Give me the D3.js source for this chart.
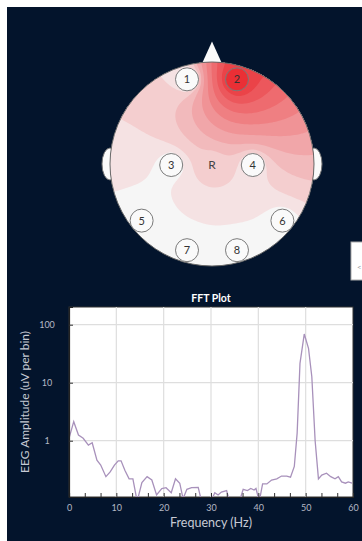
<!DOCTYPE html>
<html>
<head>
<meta charset="utf-8">
<script src="https://cdn.jsdelivr.net/npm/d3@7"></script>
<style>
	html, body { margin: 0; padding: 0; background: #fff; }
	svg { display: block; font-family: Lato, 'Open Sans', sans-serif; }
</style>
</head>
<body>
<svg id="chart" width="362" height="541"></svg>
<script>
// head plot: channel positions on a unit head, plus the relative power at each one
const channelLabels = ['1', '2', '3', '4', '5', '6', '7', '8'];
const channelX = [-0.245, 0.245, -0.40, 0.40, -0.69, 0.69, -0.245, 0.245];
const channelY = [-0.83, -0.83, 0.01, 0.01, 0.555, 0.555, 0.845, 0.845];
const channelValues = [0.025, 1.0, 0.003, 0.022, 0, 0, 0, 0];
const refLabel = 'R';
const refX = 0;
const refY = 0.01;
const refValue = 0.065;

// FFT plot
const fftFreqs = [0, 1.0, 2.0, 3.0, 4.1, 4.9, 5.9, 6.7, 7.8, 8.7, 9.6, 10.4, 11.0, 11.8, 12.7, 13.5, 14.4, 15.4, 16.5, 17.5,
	18.5, 19.6, 20.5, 21.6, 22.5, 23.4, 24.1, 24.9, 25.9, 27.3, 28.0, 29.0, 30.0, 30.8, 31.5, 32.2, 33.3, 33.9, 35.0, 36.0,
	36.8, 37.7, 38.4, 39.1, 39.5, 40.2, 40.9, 41.8, 42.8, 43.9, 44.9, 46.0, 46.8, 47.6, 48.2, 48.8, 49.7, 50.6, 51.3, 52.0,
	52.7, 53.4, 54.4, 55.3, 56.2, 56.9, 57.6, 58.4, 59.0, 59.8];
const fftAmps = [1.1, 2.13, 1.25, 1.1, 0.84, 0.92, 0.46, 0.38, 0.24, 0.29, 0.38, 0.45, 0.45, 0.31, 0.22, 0.22, 0.09, 0.19, 0.24, 0.21,
	0.116, 0.15, 0.155, 0.127, 0.22, 0.185, 0.1, 0.145, 0.155, 0.157, 0.09, 0.09, 0.09, 0.127, 0.116, 0.13, 0.138, 0.09, 0.09, 0.09,
	0.145, 0.138, 0.15, 0.141, 0.15, 0.09, 0.18, 0.18, 0.21, 0.22, 0.246, 0.246, 0.235, 0.36, 1.35, 21.5, 69, 39, 12.7, 1.0,
	0.22, 0.256, 0.275, 0.24, 0.22, 0.24, 0.195, 0.185, 0.195, 0.185];
const freqTicks = [0, 10, 20, 30, 40, 50, 60];
const ampTicks = [1, 10, 100];

const svg = d3.select('#chart');

svg.append('rect')
	.attr('x', 7).attr('y', 7).attr('width', 355).attr('height', 534)
	.attr('fill', '#03142c');

// ---------- head plot ----------
const head = { cx: 212, cy: 164, r: 102 };
const electrodeR = 11.5;
const hx = d3.scaleLinear().domain([-1, 1]).range([head.cx - head.r, head.cx + head.r]);
const hy = d3.scaleLinear().domain([-1, 1]).range([head.cy - head.r, head.cy + head.r]);
const heatColor = d3.scaleSqrt().domain([0, 1]).range(['#f6f6f6', '#ea2f35']);

// ears and nose sit behind the head
[-1, 1].forEach(side => {
	svg.append('ellipse')
		.attr('cx', hx(side)).attr('cy', hy(0))
		.attr('rx', 8).attr('ry', 16)
		.attr('fill', '#fafafa').attr('stroke', '#777').attr('stroke-width', 1);
});
svg.append('path')
	.attr('d', d3.line()([[hx(-0.1), hy(-0.98)], [hx(0), hy(-1.2)], [hx(0.1), hy(-0.98)]]) + 'Z')
	.attr('fill', '#fafafa');

svg.append('clipPath').attr('id', 'head-clip')
	.append('circle').attr('cx', head.cx).attr('cy', head.cy).attr('r', head.r);

svg.append('circle')
	.attr('cx', head.cx).attr('cy', head.cy).attr('r', head.r)
	.attr('fill', heatColor(0));

const points = channelX.map((x, i) => ({ x: x, y: channelY[i], v: channelValues[i] }))
	.concat([{ x: refX, y: refY, v: refValue }]);

// harmonic fill between the electrodes: each free cell is the mean of its neighbours,
// electrode discs are held at their value, the head edge is closed
const n = 90;
const step = 2 / n;
const rho = electrodeR / head.r;
const grid = new Float64Array(n * n);
const state = new Int8Array(n * n);
const meanVal = d3.mean(points, p => p.v);
for (let j = 0; j < n; j++) {
	for (let i = 0; i < n; i++) {
		const k = j * n + i;
		const px = -1 + (i + 0.5) * step, py = -1 + (j + 0.5) * step;
		if (px * px + py * py > 1) { state[k] = 0; continue; }
		state[k] = 1;
		grid[k] = meanVal;
		for (const p of points) {
			if ((px - p.x) * (px - p.x) + (py - p.y) * (py - p.y) <= rho * rho) {
				state[k] = 2;
				grid[k] = p.v;
			}
		}
	}
}
for (let it = 0; it < 1200; it++) {
	for (let j = 0; j < n; j++) {
		for (let i = 0; i < n; i++) {
			const k = j * n + i;
			if (state[k] !== 1) continue;
			let s = 0, c = 0;
			if (i > 0 && state[k - 1]) { s += grid[k - 1]; c++; }
			if (i < n - 1 && state[k + 1]) { s += grid[k + 1]; c++; }
			if (j > 0 && state[k - n]) { s += grid[k - n]; c++; }
			if (j < n - 1 && state[k + n]) { s += grid[k + n]; c++; }
			grid[k] += 1.92 * (s / c - grid[k]);
		}
	}
}
// outside cells copy the value just inside the rim, so the bands meet the edge cleanly
for (let j = 0; j < n; j++) {
	for (let i = 0; i < n; i++) {
		const k = j * n + i;
		if (state[k]) continue;
		const px = -1 + (i + 0.5) * step, py = -1 + (j + 0.5) * step;
		const len = Math.sqrt(px * px + py * py) / 0.97;
		const ii = Math.min(n - 1, Math.max(0, Math.floor((px / len + 1) / step)));
		const jj = Math.min(n - 1, Math.max(0, Math.floor((py / len + 1) / step)));
		grid[k] = grid[jj * n + ii];
	}
}

// bands equally spaced in colour (sqrt scale)
const levels = d3.range(1, 10).map(k => (k / 10) * (k / 10));
const bands = d3.contours().size([n, n]).thresholds(levels)(Array.from(grid));
const toHead = d3.geoTransform({
	point: function(x, y) { this.stream.point(hx(-1 + x * step), hy(-1 + y * step)); }
});

svg.append('g').attr('clip-path', 'url(#head-clip)')
	.selectAll('path').data(bands).join('path')
	.attr('d', d3.geoPath(toHead))
	.attr('fill', d => heatColor(d.value));

svg.append('circle')
	.attr('cx', head.cx).attr('cy', head.cy).attr('r', head.r)
	.attr('fill', 'none').attr('stroke', '#666').attr('stroke-width', 1);

const chan = svg.append('g').selectAll('g').data(channelLabels).join('g')
	.attr('transform', (d, i) => 'translate(' + hx(channelX[i]) + ',' + hy(channelY[i]) + ')');
chan.append('circle')
	.attr('r', electrodeR)
	.attr('fill', (d, i) => channelValues[i] >= 0.5 ? heatColor(channelValues[i]) : '#fafafa')
	.attr('stroke', '#7a7a7a').attr('stroke-width', 1);
chan.append('text')
	.attr('text-anchor', 'middle').attr('dy', '0.36em')
	.style('font-size', '11px').attr('fill', '#333')
	.text(d => d);

svg.append('text')
	.attr('x', hx(refX)).attr('y', hy(refY)).attr('dy', '0.36em')
	.attr('text-anchor', 'middle')
	.style('font-size', '12px').attr('fill', '#444')
	.text(refLabel);

// cut-off side button on the right
svg.append('rect')
	.attr('x', 351).attr('y', 242).attr('width', 12).attr('height', 38)
	.attr('fill', '#fff').attr('stroke', '#aaa');
svg.append('text')
	.attr('x', 357).attr('y', 270)
	.style('font-size', '8px').attr('fill', '#999')
	.text('<');

// ---------- FFT plot ----------
const margin = { top: 307, right: 9, bottom: 44, left: 69 };
const width = 362 - margin.left - margin.right;
const height = 541 - margin.top - margin.bottom;

const x = d3.scaleLinear().domain([0, 60]).range([0, width]);
const y = d3.scaleLog().domain([0.107, 202]).range([height, 0]);

const g = svg.append('g').attr('transform', 'translate(' + margin.left + ',' + margin.top + ')');

g.append('rect')
	.attr('width', width).attr('height', height)
	.attr('fill', '#fff').attr('stroke', '#333').attr('stroke-width', 1);

g.append('clipPath').attr('id', 'plot-clip')
	.append('rect').attr('width', width).attr('height', height);

g.append('g').selectAll('line').data(freqTicks.slice(1, -1)).join('line')
	.attr('x1', d => x(d)).attr('x2', d => x(d))
	.attr('y1', 0).attr('y2', height)
	.attr('stroke', '#dedede').attr('stroke-width', 1.2);
g.append('g').selectAll('line').data(ampTicks).join('line')
	.attr('x1', 0).attr('x2', width)
	.attr('y1', d => y(d)).attr('y2', d => y(d))
	.attr('stroke', '#dedede').attr('stroke-width', 1.2);

const fftData = fftFreqs.map((f, i) => ({ f: f, a: fftAmps[i] }));
g.append('path')
	.datum(fftData)
	.attr('clip-path', 'url(#plot-clip)')
	.attr('fill', 'none')
	.attr('stroke', '#a891bb')
	.attr('stroke-width', 1.3)
	.attr('d', d3.line().x(d => x(d.f)).y(d => y(d.a)));

// minor ticks inside the bottom edge
const xAxisTicks = g.append('g').attr('transform', 'translate(0,' + height + ')')
	.call(d3.axisBottom(x).tickValues(d3.range(0, 60.01, 10 / 3)).tickSize(-4).tickFormat(''));
xAxisTicks.select('.domain').attr('stroke', '#222').attr('stroke-width', 1.2);
xAxisTicks.selectAll('.tick line').attr('stroke', '#333');

const xAxis = g.append('g').attr('transform', 'translate(0,' + height + ')')
	.call(d3.axisBottom(x).tickValues(freqTicks).tickSize(0).tickPadding(8));
xAxis.select('.domain').remove();
xAxis.selectAll('text').style('font-size', '9px').attr('fill', '#b4b8c4').style('font-family', 'Lato, sans-serif');

const yAxis = g.append('g')
	.call(d3.axisLeft(y).tickValues(ampTicks).tickSize(-4).tickFormat(d3.format('d')));
yAxis.select('.domain').attr('stroke', '#222').attr('stroke-width', 1.2);
yAxis.selectAll('.tick line').attr('stroke', '#333');
yAxis.selectAll('text')
	.attr('text-anchor', 'middle').attr('x', -22)
	.style('font-size', '9px').attr('fill', '#b4b8c4').style('font-family', 'Lato, sans-serif');

g.append('text')
	.attr('x', width / 2).attr('y', -5)
	.attr('text-anchor', 'middle')
	.style('font-size', '10.5px').style('font-weight', 'bold')
	.attr('fill', '#fff')
	.text('FFT Plot');

g.append('text')
	.attr('x', x(30)).attr('y', height + 30)
	.attr('text-anchor', 'middle')
	.style('font-size', '12.5px').attr('fill', '#c6cad4')
	.text('Frequency (Hz)');

g.append('text')
	.attr('transform', 'translate(' + (29 - margin.left) + ',' + (402 - margin.top) + ') rotate(-90)')
	.attr('text-anchor', 'middle')
	.style('font-size', '12px').attr('fill', '#c6cad4')
	.text('EEG Amplitude (uV per bin)');
</script>
</body>
</html>
